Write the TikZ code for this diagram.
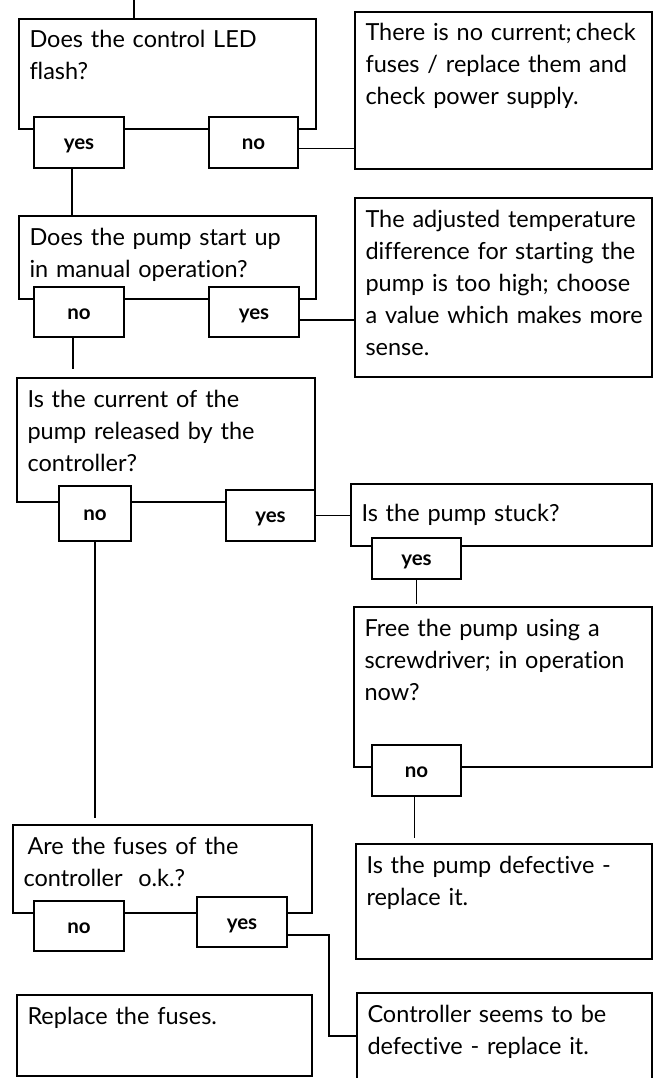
\documentclass[tikz,border=0pt]{standalone}
\usepackage{fontspec}
\setmainfont{Lato}[Ligatures=NoCommon]
\usetikzlibrary{positioning}

\newcommand{\spreadline}[1]{\makebox[\linewidth][s]{#1}}

\begin{document}
\begin{tikzpicture}[
    x=1pt, y=-1pt,
    qbox/.style={draw, line width=1.7pt, anchor=north west, outer sep=0pt, inner xsep=10.5pt, inner ysep=7pt, text height=22pt, align=left, font=\fontsize{23.5}{32}\selectfont},
    abox/.style={draw, fill=white, line width=1.7pt, anchor=north west, outer sep=0pt, inner sep=0pt, text height=14pt, text depth=0pt, font=\fontsize{20.5}{20.5}\selectfont\bfseries},
    link/.style={line width=1.7pt}
]
\useasboundingbox (0,0) rectangle (653,1078);

% questions and answers
\node (led) [qbox, text width=276pt, text depth=74pt] at (19,19) {Does the control LED\\flash?};
\node (nocur) [qbox, text width=276pt, text depth=121pt] at (355,12) {\spreadline{There is no current;\,check}\\\spreadline{fuses / replace them and}\\check power supply.};
\node (pump) [qbox, text width=276pt, text depth=47pt] at (19,216) {Does the pump start up\\in manual operation?};
\node (tdiff) [qbox, text width=276pt, text depth=143pt] at (355,198) {\spreadline{The adjusted temperature}\\\spreadline{difference for starting the}\\\spreadline{pump is too high; choose}\\\spreadline{a value which makes more}\\sense.};
\node (release) [qbox, text width=277pt, text depth=88pt] at (17,378) {Is the current of the\\pump released by the\\controller?};
\node (stuck) [qbox, text width=280pt, text height=30pt, text depth=18pt] at (351,484) {Is the pump stuck?};
\node (free) [qbox, text width=277pt, text depth=124pt] at (354,607) {\spreadline{Free the pump using a}\\\spreadline{screwdriver; in operation}\\now?};
\node (fuses) [qbox, text width=278pt, text depth=52pt] at (13,825) {\hspace{4pt}Are the fuses of the\\controller~~o.k.?};
\node (defect) [qbox, text width=275pt, text depth=79pt] at (356,844) {\spreadline{Is the pump defective -}\\replace it.};
\node (newfuses) [qbox, text width=274pt, text depth=45pt] at (17,995) {Replace the fuses.};
\node (ctrl) [qbox, text width=274pt, text depth=84pt] at (357,993) {\spreadline{Controller seems to be}\\defective - replace it.};

\node (yes1) [abox, minimum width=90pt, minimum height=51pt] at (34,117) {yes};
\node (no1) [abox, minimum width=89pt, minimum height=51pt] at (209,117) {no};
\node (no2) [abox, minimum width=90pt, minimum height=50pt] at (34,287) {no};
\node (yes2) [abox, minimum width=90pt, minimum height=50pt] at (209,287) {yes};
\node (no3) [abox, minimum width=72pt, minimum height=55pt] at (59,486) {no};
\node (yes3) [abox, minimum width=89pt, minimum height=51pt] at (226,490) {yes};
\node (yes4) [abox, minimum width=89pt, minimum height=41pt] at (372,538) {yes};
\node (no5) [abox, minimum width=89pt, minimum height=51pt] at (372,745) {no};
\node (no6) [abox, minimum width=90pt, minimum height=50pt] at (34,901) {no};
\node (yes6) [abox, minimum width=90pt, minimum height=50pt] at (197,897) {yes};

% connectors
\coordinate (start) at (134,0);
\draw[link] (start) -- (start |- led.north);
\draw[link] ([yshift=-6pt]no1.east) -- ([yshift=-6pt]no1.east -| nocur.west);
\draw[link] ([xshift=-7pt]yes1.south) -- ([xshift=-7pt]yes1.south |- pump.north);
\draw[link] ([yshift=-8pt]yes2.east) -- ([yshift=-8pt]yes2.east -| tdiff.west);
\draw[link, shorten >=9pt] ([xshift=-6pt]no2.south) -- ([xshift=-6pt]no2.south |- release.north);
\draw[link] (yes3.east) -- (yes3.east -| stuck.west);
\draw[link, shorten >=3pt] (yes4.south) -- (yes4.south |- free.north);
\draw[link, shorten >=7pt] (no3.south) -- (no3.south |- fuses.north);
\draw[link, shorten >=6pt] ([xshift=-2pt]no5.south) -- ([xshift=-2pt]no5.south |- defect.north);
\draw[link] ([yshift=-13pt]yes6.east) -- ++(42,0) |- ([yshift=-43pt]ctrl.north west);

\end{tikzpicture}
\end{document}
